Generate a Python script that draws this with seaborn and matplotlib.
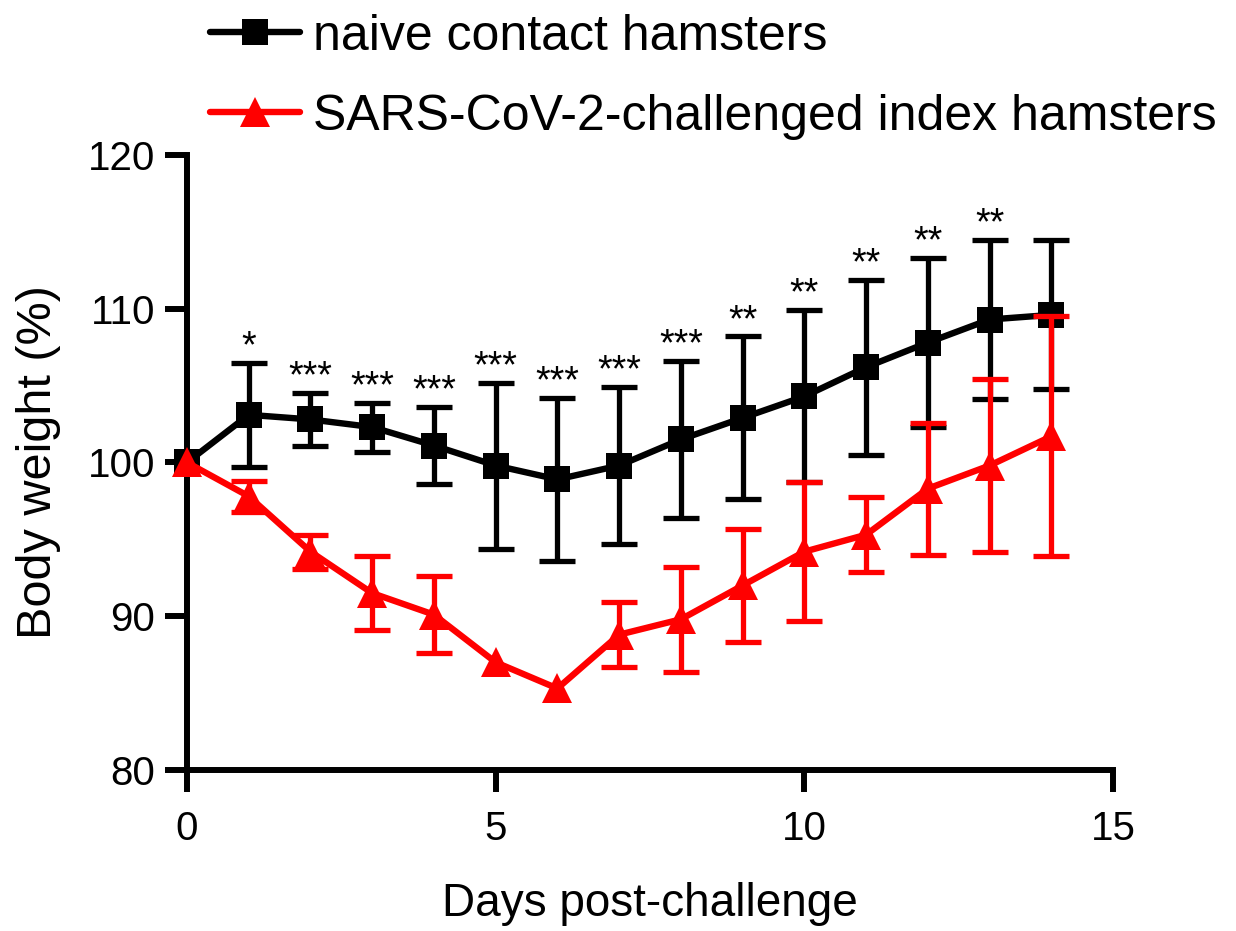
import matplotlib
matplotlib.use("Agg")
import matplotlib.pyplot as plt
import seaborn as sns
import pandas as pd
import numpy as np
from matplotlib.lines import Line2D

days = list(range(15))
naive_mean = [100.0, 103.1, 102.8, 102.3, 101.1, 99.8, 98.9, 99.8, 101.5, 102.9, 104.3, 106.2, 107.8, 109.3, 109.6]
naive_sd = [0.0, 3.4, 1.7, 1.6, 2.5, 5.4, 5.3, 5.1, 5.1, 5.3, 5.6, 5.7, 5.5, 5.2, 4.85]
index_mean = [100.0, 97.8, 94.2, 91.5, 90.1, 87.0, 85.3, 88.8, 89.8, 92.0, 94.2, 95.3, 98.3, 99.8, 101.7]
index_sd = [0.0, 1.0, 1.1, 2.4, 2.5, 0.0, 0.0, 2.1, 3.4, 3.7, 4.5, 2.45, 4.3, 5.6, 7.8]
stars = ["", "*", "***", "***", "***", "***", "***", "***", "***", "**", "**", "**", "**", "**", ""]
label_naive = "naive contact hamsters"
label_index = "SARS-CoV-2-challenged index hamsters"

sns.set_style("ticks")
plt.rcParams['font.family'] = ['Liberation Sans', 'DejaVu Sans']
plt.rcParams['text.color'] = 'black'
plt.rcParams['axes.labelcolor'] = 'black'
plt.rcParams['xtick.color'] = 'black'
plt.rcParams['ytick.color'] = 'black'

RED = '#ff0000'
LW = 4.6
ELW = 3.8

fig = plt.figure(figsize=(12.36, 9.31), dpi=100)
ax = fig.add_axes([0.1513, 0.173, 0.7492, 0.6605])

df = pd.DataFrame({
    "day": days * 2,
    "weight": naive_mean + index_mean,
    "group": [label_naive] * 15 + [label_index] * 15,
})

def draw_err(mean, sd, color, z):
    d = np.array(days); m = np.array(mean); s = np.array(sd)
    keep = s > 0
    ax.errorbar(d[keep], m[keep], yerr=s[keep], fmt='none', ecolor=color,
                elinewidth=ELW, capsize=13, capthick=ELW, zorder=z, clip_on=False)

# black series (below)
draw_err(naive_mean, naive_sd, 'black', 2)
sns.lineplot(data=df[df.group == label_naive], x="day", y="weight", color="black",
             marker="s", markersize=19, linewidth=LW, markeredgewidth=0,
             ax=ax, legend=False, zorder=3, clip_on=False)
# red series (on top)
draw_err(index_mean, index_sd, RED, 4)
sns.lineplot(data=df[df.group == label_index], x="day", y="weight", color=RED,
             marker="^", markersize=21, linewidth=LW, markeredgewidth=0,
             ax=ax, legend=False, zorder=5, clip_on=False)

for d, m, s, st in zip(days, naive_mean, naive_sd, stars):
    if st:
        ax.annotate(st, (d, m + s), xytext=(0, 4), textcoords="offset points",
                    ha="center", va="baseline", fontsize=27, color="black")

ax.set_xlim(0, 15)
ax.set_ylim(80, 120)
ax.set_xticks([0, 5, 10, 15])
ax.set_yticks([80, 90, 100, 110, 120])
ax.tick_params(axis='both', which='major', length=16, width=4.3, labelsize=29, color='black')
ax.tick_params(axis='y', pad=7)
ax.tick_params(axis='x', pad=13)
for side in ["left", "bottom"]:
    ax.spines[side].set_linewidth(4.3)
    ax.spines[side].set_color("black")
sns.despine(ax=ax)
ax.set_xlabel("Days post-challenge", fontsize=33, labelpad=24)
ax.set_ylabel("Body weight (%)", fontsize=35, labelpad=19)

handles = [
    Line2D([0], [0], color="black", marker="s", markersize=19, linewidth=LW, markeredgewidth=0),
    Line2D([0], [0], color=RED, marker="^", markersize=21, linewidth=LW, markeredgewidth=0),
]
fig.legend(handles, [label_naive, label_index], loc="upper left",
           bbox_to_anchor=(0.17, 0.985), frameon=False, fontsize=36,
           handlelength=1.8, handletextpad=0.25, labelspacing=0.68,
           borderpad=0, borderaxespad=0)

fig.savefig("out.png", dpi=100)
